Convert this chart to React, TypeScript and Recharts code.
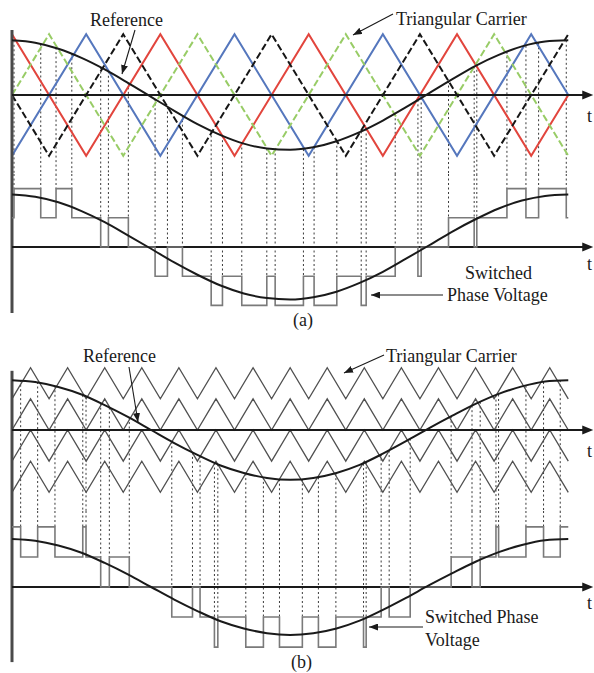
import React from "react";
import { ComposedChart, Line, XAxis, YAxis, ReferenceLine, ReferenceDot } from "recharts";

// time is in degrees of the reference cycle, the t axis runs a little past 360
const T_END = 376;
const AXIS_END = 371;

// ---- (a) phase shifted carriers, corners as [t, value]
const redCarrierA = [[0, 1], [48, -1], [96, 1], [144, -1], [192, 1], [240, -1], [288, 1], [336, -1], [360, 0]];
const blueCarrierA = [[0, -1], [48, 1], [96, -1], [144, 1], [192, -1], [240, 1], [288, -1], [336, 1], [360, 0]];
const greenCarrierA = [[0, 0], [24, 1], [72, -1], [120, 1], [168, -1], [216, 1], [264, -1], [312, 1], [360, -1]];
const blackCarrierA = [[0, 0], [24, -1], [72, 1], [120, -1], [168, 1], [216, -1], [264, 1], [312, -1], [360, 1]];

const refA = [
  [0, 0.9], [15, 0.86], [30, 0.76], [45, 0.61], [60, 0.42], [75, 0.2], [90, -0.03], [105, -0.26],
  [120, -0.48], [135, -0.66], [150, -0.8], [165, -0.88], [180, -0.9], [195, -0.86], [210, -0.76],
  [225, -0.61], [240, -0.42], [255, -0.2], [270, 0.03], [285, 0.26], [300, 0.48], [315, 0.66],
  [330, 0.8], [345, 0.88], [360, 0.9],
];
const outSineA = [
  [0, 1.8], [15, 1.72], [30, 1.53], [45, 1.23], [60, 0.85], [75, 0.4], [90, -0.06], [105, -0.53],
  [120, -0.95], [135, -1.32], [150, -1.59], [165, -1.75], [180, -1.8], [195, -1.72], [210, -1.53],
  [225, -1.23], [240, -0.85], [255, -0.4], [270, 0.06], [285, 0.53], [300, 0.95], [315, 1.32],
  [330, 1.59], [345, 1.75], [360, 1.8],
];
// switching instants: [t, new level, reference value where the dashed line starts]
const startLevelA = 1;
const switchesA = [
  [1.3, 2, 0.9], [18.6, 1, 0.84], [28.5, 2, 0.78], [38.7, 1, 0.68], [57.4, 0, 0.46], [62.4, 1, 0.39],
  [75.3, 0, 0.2], [92.6, -1, -0.07], [100.6, 0, -0.2], [110.3, -1, -0.34], [128.9, -2, -0.59],
  [136.2, -1, -0.67], [148.7, -2, -0.79], [164.9, -1, -0.88], [170.3, -2, -0.89], [188.6, -1, -0.89],
  [195.5, -2, -0.86], [210.2, -1, -0.76], [226, -2, -0.6], [229.2, -1, -0.56], [248, 0, -0.31],
  [262.7, -1, -0.08], [264.8, 0, -0.05], [282.5, 1, 0.23], [299.1, 0, 0.47], [300.8, 1, 0.49],
  [320.3, 2, 0.71], [332.6, 1, 0.81], [340.8, 2, 0.86], [358.7, 1, 0.9],
];

// ---- (b) level shifted carriers, all in phase
const cornerTimesB = [0, 12, 24, 36, 48, 60, 72, 84, 96, 108, 120, 132, 144, 156, 168, 180, 192, 204, 216, 228, 240, 252, 264, 276, 288, 300, 312, 324, 336, 348, 360];
const bandsB = [[0.5, 1], [0, 0.5], [-0.5, 0], [-1, -0.5]];

const refB = [
  [0, 0.8], [15, 0.77], [30, 0.69], [45, 0.57], [60, 0.4], [75, 0.21], [90, 0], [105, -0.21],
  [120, -0.4], [135, -0.57], [150, -0.69], [165, -0.77], [180, -0.8], [195, -0.77], [210, -0.69],
  [225, -0.56], [240, -0.38], [255, -0.18], [270, 0.03], [285, 0.23], [300, 0.42], [315, 0.58],
  [330, 0.7], [345, 0.78], [360, 0.8],
];
const outSineB = [
  [0, 1.6], [15, 1.54], [30, 1.38], [45, 1.14], [60, 0.8], [75, 0.42], [90, 0], [105, -0.42],
  [120, -0.8], [135, -1.14], [150, -1.38], [165, -1.54], [180, -1.6], [195, -1.54], [210, -1.38],
  [225, -1.12], [240, -0.76], [255, -0.36], [270, 0.06], [285, 0.46], [300, 0.84], [315, 1.16],
  [330, 1.4], [345, 1.56], [360, 1.6],
];
const startLevelB = 2;
const switchesB = [
  [5.6, 1, 0.8], [16.6, 2, 0.77], [27.8, 1, 0.71], [45.8, 2, 0.56], [47.9, 1, 0.54], [57.4, 0, 0.43],
  [63, 1, 0.36], [75.9, 0, 0.2], [103.4, -1, -0.19], [116.8, 0, -0.36], [121.7, -1, -0.42],
  [131, -2, -0.53], [133.2, -1, -0.55], [151.3, -2, -0.7], [162.7, -1, -0.76], [173.1, -2, -0.79],
  [187.9, -1, -0.79], [198.3, -2, -0.76], [209.6, -1, -0.7], [227.5, -2, -0.54], [229.2, -1, -0.52],
  [238.9, 0, -0.39], [244.1, -1, -0.33], [257.7, 0, -0.14], [284.2, 1, 0.22], [297.7, 0, 0.39],
  [303, 1, 0.45], [313.2, 2, 0.56], [314.9, 1, 0.57], [332.6, 2, 0.71], [344, 1, 0.77], [354.8, 2, 0.8],
];

const pts = (arr: number[][]) => arr.map(([t, v]) => ({ t, v }));

const stepSeries = (start: number, sw: number[][]) => {
  const rows = [{ t: 0, v: start }, ...sw.map(([t, l]) => ({ t, v: l }))];
  rows.push({ t: 360, v: rows[rows.length - 1].v });
  return rows;
};

const bandSeries = (lo: number, hi: number) =>
  cornerTimesB.map((t, i) => ({ t, v: i % 2 === 0 ? lo : hi }));

const ArrowHead = (props: any) => {
  const { cx, cy } = props;
  return <polygon points={`${cx - 3},${cy - 4.5} ${cx + 8},${cy} ${cx - 3},${cy + 4.5}`} fill="#1a1a1a" />;
};

const INK = "#1a1a1a";
const DASH_INK = "#3a3a3a";

const axisParts = (key: string, axisTop: number, axisBottom: number) => [
  <ReferenceLine key={key + "-v"} segment={[{ x: 0, y: axisTop }, { x: 0, y: axisBottom }]} stroke="#4a4a4a" strokeWidth={3} ifOverflow="visible" />,
  <ReferenceLine key={key + "-h"} segment={[{ x: 0, y: 0 }, { x: AXIS_END, y: 0 }]} stroke={INK} strokeWidth={2} ifOverflow="visible" />,
  <ReferenceDot key={key + "-a"} x={AXIS_END} y={0} r={4} shape={ArrowHead} ifOverflow="visible" />,
];

const CHART_W = 594;
const MARGIN = { top: 0, right: 1, bottom: 0, left: 12 };

function CarrierStrip({ top, height, axisTop, carriers, reference, switches }: any) {
  return (
    <div style={{ position: "absolute", left: 0, top }}>
      <ComposedChart width={CHART_W} height={height} margin={MARGIN}>
        <XAxis type="number" dataKey="t" domain={[0, T_END]} hide allowDataOverflow />
        <YAxis type="number" domain={[-1.3, 1.3]} hide allowDataOverflow />
        {switches.map(([t, , r]: number[], i: number) => (
          <ReferenceLine key={"d" + i} segment={[{ x: t, y: r }, { x: t, y: -1.3 }]} stroke={DASH_INK} strokeWidth={1} strokeDasharray="2 2.5" ifOverflow="visible" />
        ))}
        {carriers.map((c: any, i: number) => (
          <Line key={"c" + i} data={c.data} dataKey="v" type="linear" stroke={c.color} strokeWidth={c.width} strokeDasharray={c.dash} dot={false} activeDot={false} isAnimationActive={false} />
        ))}
        {axisParts("ax", axisTop, -1.3)}
        <Line data={pts(reference)} dataKey="v" type="monotone" stroke={INK} strokeWidth={2} dot={false} activeDot={false} isAnimationActive={false} />
      </ComposedChart>
    </div>
  );
}

function OutputStrip({ top, height, span, axisBottom, start, switches, sine }: any) {
  const steps = stepSeries(start, switches);
  return (
    <div style={{ position: "absolute", left: 0, top }}>
      <ComposedChart width={CHART_W} height={height} margin={MARGIN}>
        <XAxis type="number" dataKey="t" domain={[0, T_END]} hide allowDataOverflow />
        <YAxis type="number" domain={[-span, span]} hide allowDataOverflow />
        {switches.map(([t, l]: number[], i: number) => (
          <ReferenceLine key={"d" + i} segment={[{ x: t, y: span }, { x: t, y: Math.max(l, steps[i].v) }]} stroke={DASH_INK} strokeWidth={1} strokeDasharray="2 2.5" ifOverflow="visible" />
        ))}
        {axisParts("ax", span, axisBottom)}
        <Line data={steps} dataKey="v" type="stepAfter" stroke="#7a7a7a" strokeWidth={1.6} dot={false} activeDot={false} isAnimationActive={false} />
        <Line data={pts(sine)} dataKey="v" type="monotone" stroke={INK} strokeWidth={2} dot={false} activeDot={false} isAnimationActive={false} />
      </ComposedChart>
    </div>
  );
}

const labels = [
  { x: 90, y: 26, text: "Reference" },
  { x: 396, y: 25, text: "Triangular Carrier" },
  { x: 587, y: 122, text: "t" },
  { x: 587, y: 270, text: "t" },
  { x: 465, y: 279, text: "Switched" },
  { x: 447, y: 301, text: "Phase Voltage" },
  { x: 293, y: 326, text: "(a)" },
  { x: 83, y: 362, text: "Reference" },
  { x: 386, y: 362, text: "Triangular Carrier" },
  { x: 587, y: 457, text: "t" },
  { x: 587, y: 609, text: "t" },
  { x: 425, y: 623, text: "Switched Phase" },
  { x: 425, y: 646, text: "Voltage" },
  { x: 291, y: 668, text: "(b)" },
];

const pointers = [
  [135, 30, 122, 74],
  [393, 14, 353, 35],
  [443, 295, 371, 295],
  [129, 367, 138, 422],
  [384, 355, 344, 373],
  [423, 627, 369, 627],
];

const carriersA = [
  { data: pts(redCarrierA), color: "#e2453d", width: 2 },
  { data: pts(blueCarrierA), color: "#5577bd", width: 2 },
  { data: pts(greenCarrierA), color: "#98cc66", width: 2, dash: "7 3" },
  { data: pts(blackCarrierA), color: "#161616", width: 2, dash: "7 3" },
];

const carriersB = bandsB.map(([lo, hi]) => ({ data: bandSeries(lo, hi), color: "#505050", width: 1.3 }));

export default function App() {
  return (
    <div style={{ position: "absolute", left: 0, top: 0, width: 594, height: 673, background: "#fff", overflow: "hidden" }}>
      <CarrierStrip top={16} height={158} axisTop={1.07} carriers={carriersA} reference={refA} switches={switchesA} />
      <OutputStrip top={174} height={146} span={2.5} axisBottom={-2.26} start={startLevelA} switches={switchesA} sine={outSineA} />
      <CarrierStrip top={349} height={162} axisTop={0.95} carriers={carriersB} reference={refB} switches={switchesB} />
      <OutputStrip top={511} height={152} span={2.53} axisBottom={-2.5} start={startLevelB} switches={switchesB} sine={outSineB} />
      <svg width={594} height={673} style={{ position: "absolute", left: 0, top: 0, pointerEvents: "none" }}>
        <defs>
          <marker id="tip" markerUnits="userSpaceOnUse" markerWidth={9} markerHeight={7} refX={9} refY={3.5} orient="auto">
            <path d="M0,0 L9,3.5 L0,7 z" fill={INK} />
          </marker>
        </defs>
        {pointers.map(([x1, y1, x2, y2], i) => (
          <line key={i} x1={x1} y1={y1} x2={x2} y2={y2} stroke={INK} strokeWidth={1.1} markerEnd="url(#tip)" />
        ))}
        {labels.map((l, i) => (
          <text key={i} x={l.x} y={l.y} fontFamily="'Liberation Serif', 'DejaVu Serif', serif" fontSize={18} fill={INK}>
            {l.text}
          </text>
        ))}
      </svg>
    </div>
  );
}
